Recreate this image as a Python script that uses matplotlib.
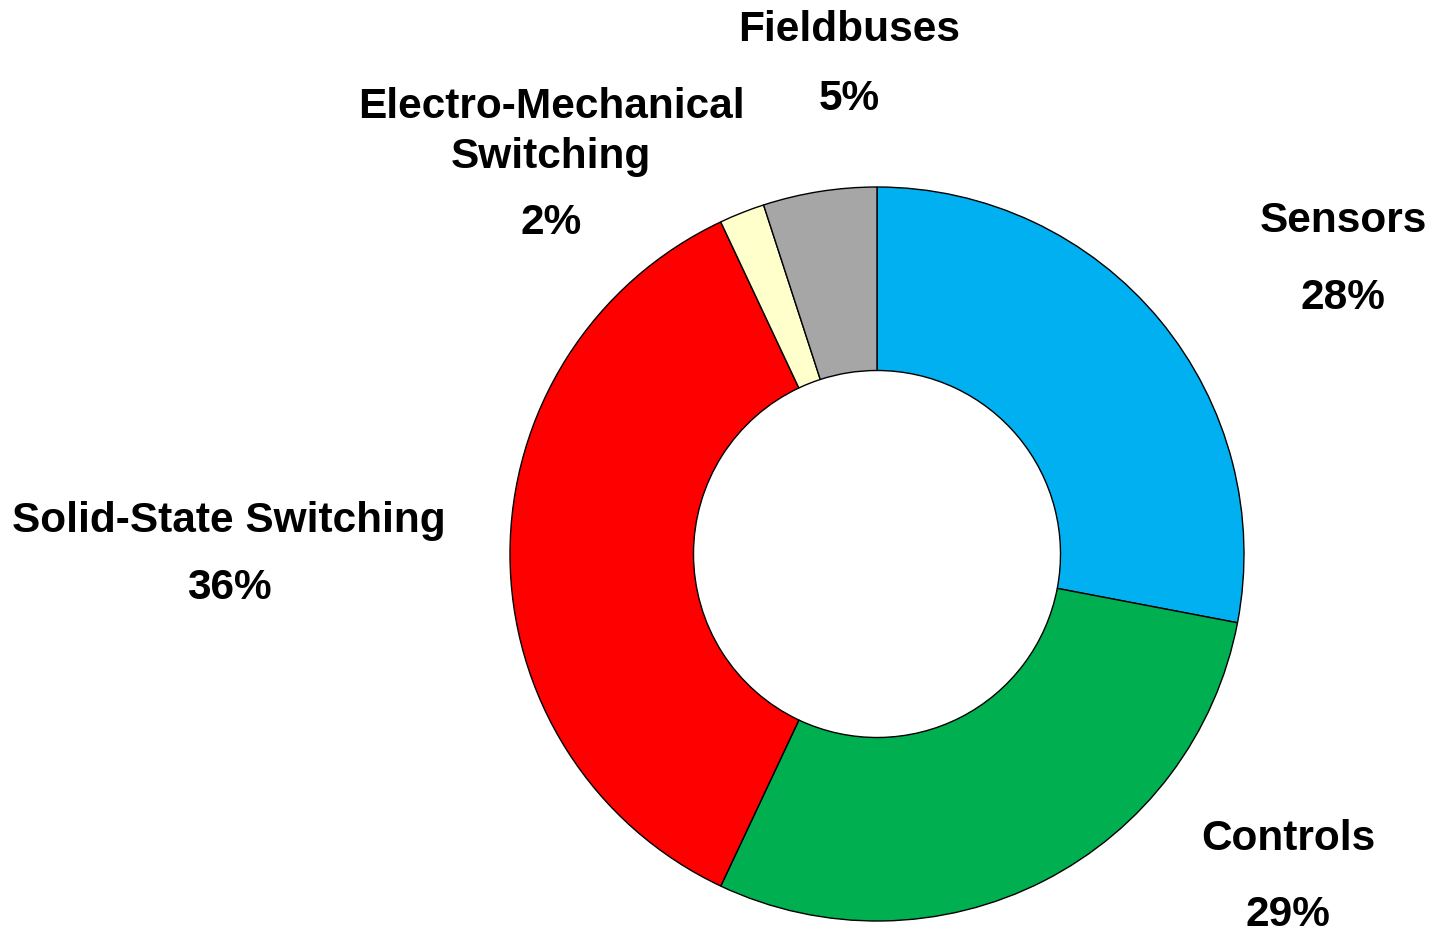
import matplotlib
matplotlib.use("Agg")
import matplotlib.pyplot as plt

# data
categories = ["Sensors", "Controls", "Solid-State Switching",
              "Electro-Mechanical\nSwitching", "Fieldbuses"]
shares = [28, 29, 36, 2, 5]
colors = ["#00B0F0", "#00B050", "#FF0000", "#FFFFCC", "#A6A6A6"]

# label placement (name, percent) in radius units, like the moved Excel labels
name_pos = [(1.270, 0.908), (1.120, -0.776), (-1.766, 0.090), (-0.888, 1.150), (-0.076, 1.428)]
pct_pos = [(1.270, 0.698), (1.120, -0.983), (-1.766, -0.092), (-0.888, 0.902), (-0.076, 1.240)]

plt.rcParams['font.family'] = ['Liberation Sans', 'DejaVu Sans']

fig = plt.figure(figsize=(14.34, 9.34), dpi=100)
ax = fig.add_axes([0, 0, 1, 1])

ax.pie(shares, colors=colors, startangle=90, counterclock=False, radius=1.0,
       wedgeprops=dict(width=0.5, edgecolor="black", linewidth=1.0))

for name, pct, (nx, ny), (px, py) in zip(categories, shares, name_pos, pct_pos):
    ax.text(nx, ny, name, ha="center", va="center", fontsize=30.5,
            fontweight="bold", linespacing=1.32)
    ax.text(px, py, f"{pct}%", ha="center", va="center", fontsize=30.5,
            fontweight="bold")

ax.set_xlim(-877 / 367, (1434 - 877) / 367)
ax.set_ylim(-380 / 367, 554 / 367)
ax.set_aspect("equal")
ax.axis("off")

fig.savefig("out.png", dpi=100, facecolor="white")
